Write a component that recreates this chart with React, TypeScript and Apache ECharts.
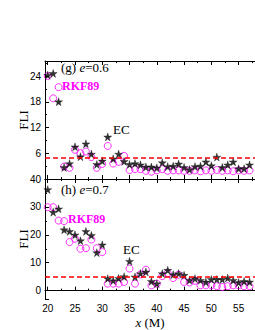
import React, { useEffect, useRef } from "react";
import * as echarts from "echarts";

// x positions (M)
const xValues = [20, 21, 22, 23, 24, 25, 26, 27, 28, 29, 30, 31, 32, 33, 34, 35, 36, 37, 38, 39, 40, 41, 42, 43, 44, 45, 46, 47, 48, 49, 50, 51, 52, 53, 54, 55, 56, 57];

// Panel (g) e=0.6
const ecG = [24.2, 24.6, 18.0, 2.7, 3.6, 7.5, 5.2, 8.2, 5.8, 3.4, 4.2, 9.8, 4.7, 5.8, 4.1, 3.4, 3.6, 3.3, 2.8, 2.8, 2.6, 3.8, 2.9, 3.0, 3.5, 2.7, 2.2, 2.9, 3.0, 4.0, 3.1, 5.1, 2.7, 3.3, 4.0, 2.4, 2.4, 3.3];
const rkfG = [24.0, 18.8, 21.4, 2.9, 2.6, 6.8, 6.0, 6.4, 5.1, 2.6, 3.5, 7.7, 3.6, 4.0, 5.4, 2.1, 2.3, 2.3, 1.9, 1.7, 2.0, 2.3, 1.9, 2.0, 2.0, 1.9, 1.9, 2.0, 1.8, 2.0, 1.9, 2.1, 1.9, 2.0, 1.8, 2.0, 1.9, 2.0];

// Panel (h) e=0.7
const ecH = [36.2, 28.1, 29.3, 21.8, 21.2, 20.0, 17.9, 21.2, 19.8, 13.6, 16.4, 4.3, 3.6, 4.4, 5.0, 10.5, 4.9, 6.1, 6.7, 3.3, 2.5, 6.1, 7.3, 5.7, 6.1, 5.5, 3.7, 4.3, 3.7, 3.1, 4.0, 4.0, 4.0, 4.5, 3.7, 2.9, 3.3, 3.1];
const rkfH = [29.9, 29.9, 25.1, 24.9, 17.4, 18.6, 15.0, 15.2, 18.3, 15.2, 13.8, 2.5, 2.5, 2.5, 3.1, 7.9, 2.5, 5.8, 7.5, 1.9, 2.5, 5.2, 6.3, 4.5, 5.7, 3.1, 2.9, 3.5, 1.9, 1.9, 1.9, 1.6, 1.3, 1.6, 1.9, 1.9, 1.6, 1.6];

const thresholdFLI = 5;

const STAR = "path://M50,0 L61,35 L98,35 L68,57 L79,91 L50,70 L21,91 L32,57 L2,35 L39,35 Z";
const SERIF = "Liberation Serif";
const SANS = "Liberation Sans";

const zip = (ys: number[]) => xValues.map((x, i) => [x, ys[i]]);

export default function App() {
  const ref = useRef<HTMLDivElement>(null);
  useEffect(() => {
    if (!ref.current) return;
    const chart = echarts.init(ref.current, null, { renderer: "svg" });

    const axisLine = { show: true, lineStyle: { color: "#000", width: 1 } };
    const tick = { show: true, inside: true, length: 4, lineStyle: { color: "#000" } };
    const minor = { show: true, splitNumber: 2, length: 2, lineStyle: { color: "#000" } };

    const xBase = (grid: number, pos: string, labels: boolean) => ({
      type: "value",
      gridIndex: grid,
      position: pos,
      min: 19.5,
      max: 58,
      splitNumber: 8,
      axisLine,
      axisTick: tick,
      minorTick: minor,
      splitLine: { show: false },
      axisLabel: {
        show: labels,
        showMinLabel: false,
        showMaxLabel: false,
        fontFamily: SANS,
        fontSize: 10,
        color: "#000",
        margin: 4,
        formatter: (v: number) => (Number.isInteger(v) && v % 5 === 0 ? String(v) : ""),
      },
    });

    const markLine = {
      silent: true,
      symbol: "none",
      label: { show: false },
      lineStyle: { color: "#ff0000", type: [5, 3], width: 1.5 },
      data: [{ yAxis: thresholdFLI }],
    };

    const circleStyle = { color: "transparent", borderColor: "#ff00ff", borderWidth: 1 };
    const starStyle = { color: "#000", borderColor: "#000", borderWidth: 0.4 };

    const yName = {
      name: "FLI",
      nameLocation: "middle",
      nameGap: 15,
      nameMoveOverlap: false,
      nameTextStyle: { fontFamily: SERIF, fontSize: 13, fontWeight: "normal", color: "#000" },
    };

    chart.setOption({
      animation: false,
      grid: [
        { left: 45, right: -2, top: 61, height: 118 },
        { left: 45, right: -2, top: 179, height: 121 },
      ],
      xAxis: [
        xBase(0, "bottom", false),
        xBase(0, "top", false),
        {
          ...xBase(1, "bottom", true),
          name: "{i|x} (M)",
          nameLocation: "middle",
          nameGap: 17,
          nameTextStyle: {
            fontFamily: SERIF,
            fontSize: 13,
            fontWeight: "normal",
            color: "#000",
            rich: { i: { fontFamily: SERIF, fontSize: 13, fontWeight: "normal", fontStyle: "italic", color: "#000" } },
          },
        },
        xBase(1, "top", false),
      ],
      yAxis: [
        {
          type: "value",
          gridIndex: 0,
          min: 0,
          max: 27.5,
          interval: 6,
          axisLine,
          axisTick: tick,
          minorTick: minor,
          splitLine: { show: false },
          ...yName,
          axisLabel: {
            fontFamily: SANS,
            fontSize: 10,
            color: "#000",
            margin: 4,
            showMinLabel: false,
            showMaxLabel: false,
            formatter: (v: number) => (v > 0 && v % 6 === 0 ? String(v) : ""),
          },
        },
        {
          type: "value",
          gridIndex: 1,
          min: -3,
          max: 40,
          splitNumber: 5,
          axisLine,
          axisTick: tick,
          minorTick: minor,
          splitLine: { show: false },
          ...yName,
          axisLabel: {
            fontFamily: SANS,
            fontSize: 10,
            color: "#000",
            margin: 4,
            showMinLabel: false,
            formatter: (v: number) => (v >= 0 && v % 10 === 0 ? String(v) : ""),
          },
        },
      ],
      series: [
        {
          name: "RKF89 (g)",
          type: "scatter",
          xAxisIndex: 0,
          yAxisIndex: 0,
          symbol: "circle",
          symbolSize: 7,
          itemStyle: circleStyle,
          data: zip(rkfG),
          markLine,
        },
        {
          name: "EC (g)",
          type: "scatter",
          xAxisIndex: 0,
          yAxisIndex: 0,
          symbol: STAR,
          symbolSize: 8,
          itemStyle: starStyle,
          data: zip(ecG),
        },
        {
          name: "RKF89 (h)",
          type: "scatter",
          xAxisIndex: 2,
          yAxisIndex: 1,
          symbol: "circle",
          symbolSize: 7,
          itemStyle: circleStyle,
          data: zip(rkfH),
          markLine,
        },
        {
          name: "EC (h)",
          type: "scatter",
          xAxisIndex: 2,
          yAxisIndex: 1,
          symbol: STAR,
          symbolSize: 8,
          itemStyle: starStyle,
          data: zip(ecH),
        },
      ],
      graphic: [
        {
          type: "text",
          left: 61,
          top: 61,
          style: {
            text: "(g) {i|e}=0.6",
            font: `13px '${SERIF}'`,
            fill: "#000",
            rich: { i: { fontFamily: SERIF, fontSize: 13, fontStyle: "italic", fill: "#000" } },
          },
        },
        {
          type: "text",
          left: 61,
          top: 183,
          style: {
            text: "(h) {i|e}=0.7",
            font: `13px '${SERIF}'`,
            fill: "#000",
            rich: { i: { fontFamily: SERIF, fontSize: 13, fontStyle: "italic", fill: "#000" } },
          },
        },
        {
          type: "text",
          left: 62,
          top: 80,
          style: { text: "RKF89", font: `bold 12px '${SERIF}'`, fill: "#ff00ff" },
        },
        {
          type: "text",
          left: 68,
          top: 213,
          style: { text: "RKF89", font: `bold 12px '${SERIF}'`, fill: "#ff00ff" },
        },
        {
          type: "text",
          left: 113,
          top: 123,
          style: { text: "EC", font: `13px '${SERIF}'`, fill: "#000" },
        },
        {
          type: "text",
          left: 123,
          top: 243,
          style: { text: "EC", font: `13px '${SERIF}'`, fill: "#000" },
        },
      ],
    });
    return () => chart.dispose();
  }, []);
  return (
    <div
      ref={ref}
      style={{ position: "fixed", left: 0, top: 0, width: 255, height: 330, background: "#fff" }}
    />
  );
}
